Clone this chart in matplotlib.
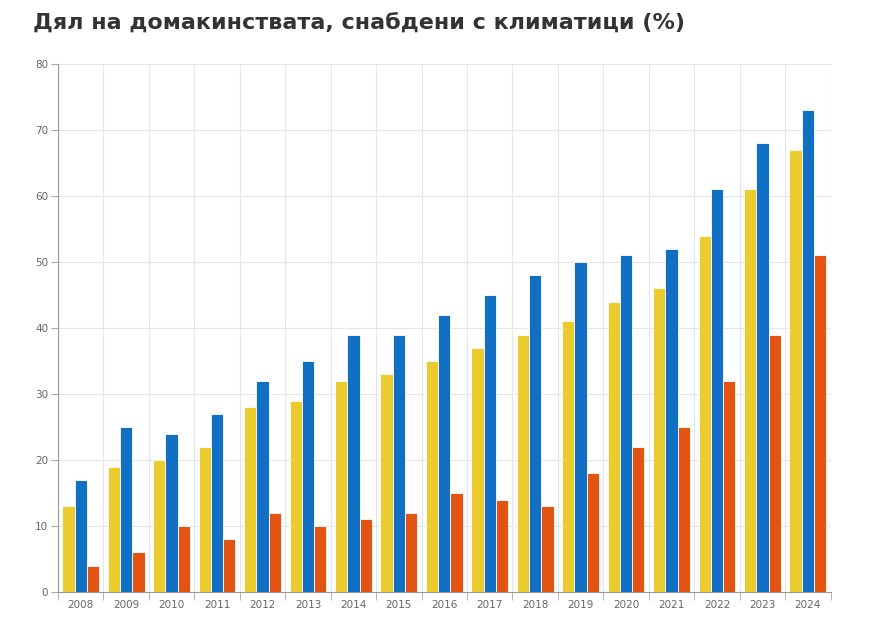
import matplotlib.pyplot as plt
import numpy as np

# ---------------------- Data ----------------------
years = ['2008', '2009', '2010', '2011', '2012', '2013', '2014', '2015', '2016',
         '2017', '2018', '2019', '2020', '2021', '2022', '2023', '2024']
yellow_vals = [13, 19, 20, 22, 28, 29, 32, 33, 35, 37, 39, 41, 44, 46, 54, 61, 67]
blue_vals = [17, 25, 24, 27, 32, 35, 39, 39, 42, 45, 48, 50, 51, 52, 61, 68, 73]
orange_vals = [4, 6, 10, 8, 12, 10, 11, 12, 15, 14, 13, 18, 22, 25, 32, 39, 51]
y_ticks = [0, 10, 20, 30, 40, 50, 60, 70, 80]

colors = ['#ECCB2E', '#1170C3', '#E35413']
grid_c = '#E6E6E6'
label_c = '#666666'

fig = plt.figure(figsize=(8.72, 6.2), dpi=100)
ax = fig.add_axes([0.0665, 0.045, 0.886, 0.852])

x = np.arange(len(years))
w = 0.27
for i, (vals, c) in enumerate(zip([yellow_vals, blue_vals, orange_vals], colors)):
    ax.bar(x + (i - 1) * w, vals, width=w, color=c, edgecolor='white',
           linewidth=0.6, zorder=3)

ax.set_xlim(-0.5, len(years) - 0.5)
ax.set_ylim(0, 80)
ax.set_yticks(y_ticks)
ax.set_yticklabels([str(v) for v in y_ticks])
ax.set_xticks(x)
ax.set_xticklabels(years)
ax.set_xticks(np.arange(-0.5, len(years)), minor=True)

ax.grid(True, axis='y', color=grid_c, linewidth=0.8, zorder=0)
ax.grid(True, axis='x', which='minor', color=grid_c, linewidth=0.8, zorder=0)
ax.tick_params(axis='x', which='major', length=0, labelsize=7.5, labelcolor=label_c, pad=6)
ax.tick_params(axis='x', which='minor', length=6, color='#AAAAAA')
ax.tick_params(axis='y', length=5, color='#AAAAAA', labelsize=7.5, labelcolor=label_c, pad=2)

for s in ['top', 'right']:
    ax.spines[s].set_visible(False)
ax.spines['left'].set_color('#999999')
ax.spines['bottom'].set_color('#999999')
ax.spines['left'].set_linewidth(0.8)
ax.spines['bottom'].set_linewidth(0.8)

fig.text(0.038, 0.962, 'Дял на домакинствата, снабдени с климатици (%)',
         fontsize=16, fontweight='bold', color='#333333', family=['DejaVu Sans'],
         va='center', ha='left')

fig.savefig('out.png', dpi=100)
